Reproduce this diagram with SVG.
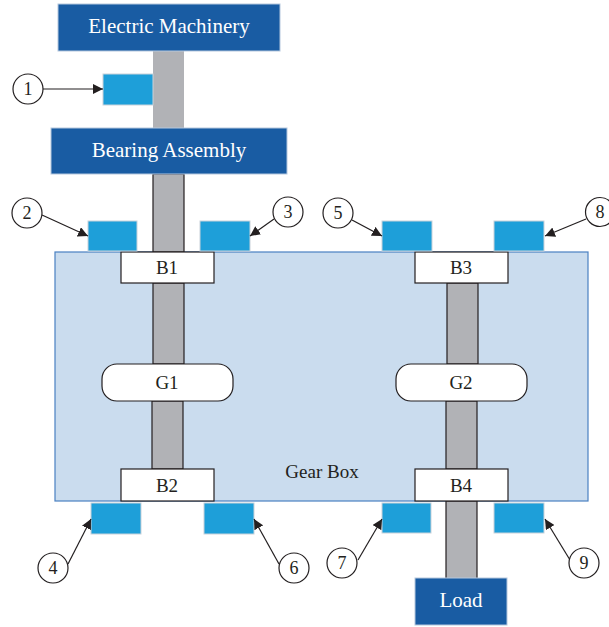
<svg xmlns="http://www.w3.org/2000/svg" width="609" height="627" viewBox="0 0 609 627">
<style>
.dark{fill:#195ca3;stroke:#b5c7dd;stroke-width:1}
.dt{font-family:"Liberation Serif",serif;font-size:21px;fill:#fff;text-anchor:middle}
.shaft{fill:#b1b2b6;stroke:#231f20;stroke-width:1.2}
.sensor{fill:#1e9fd9;stroke:#c9d2da;stroke-width:1}
.part{fill:#fff;stroke:#231f20;stroke-width:1.2}
.pt{font-family:"Liberation Serif",serif;font-size:19px;fill:#231f20;text-anchor:middle}
.num{fill:#fff;stroke:#231f20;stroke-width:1.2}
.nt{font-family:"Liberation Serif",serif;font-size:18px;fill:#231f20;text-anchor:middle}
.ar{stroke:#231f20;stroke-width:1.2;fill:none;marker-end:url(#ah)}
</style>
<defs>
<marker id="ah" viewBox="0 0 10 10" refX="10" refY="5" markerWidth="10" markerHeight="10" markerUnits="userSpaceOnUse" orient="auto">
<path d="M0,0 L10,5 L0,10 z" fill="#231f20"/>
</marker>
</defs>
<g id="gearbox">
<rect x="55" y="252" width="533" height="249" fill="#cadcee" stroke="#4a80c2" stroke-width="1.2"/>
<text x="322" y="478" class="pt">Gear Box</text>
</g>
<g id="shafts">
<rect x="153" y="51" width="31" height="77" fill="#b1b2b6"/>
<rect x="153" y="174" width="31" height="78" class="shaft"/>
<rect x="153" y="283" width="31" height="81" class="shaft"/>
<rect x="152" y="401" width="31" height="68" class="shaft"/>
<rect x="447" y="283" width="31" height="81" class="shaft"/>
<rect x="446" y="401" width="31" height="68" class="shaft"/>
<rect x="446" y="501" width="31" height="78" class="shaft"/>
</g>
<g id="electric-machinery">
<rect x="58" y="4" width="222" height="47" class="dark"/>
<text x="169" y="33" class="dt">Electric Machinery</text>
</g>
<g id="bearing-assembly">
<rect x="51" y="128" width="236" height="46" class="dark"/>
<text x="169" y="157" class="dt">Bearing Assembly</text>
</g>
<g id="load">
<rect x="415" y="578" width="92" height="47" class="dark"/>
<text x="461" y="607" class="dt">Load</text>
</g>
<g id="B1"><rect x="121" y="252" width="93" height="31" class="part"/><text x="167" y="274" class="pt">B1</text></g>
<g id="B2"><rect x="121" y="469" width="93" height="32" class="part"/><text x="167" y="492" class="pt">B2</text></g>
<g id="B3"><rect x="415" y="252" width="93" height="31" class="part"/><text x="461" y="274" class="pt">B3</text></g>
<g id="B4"><rect x="415" y="469" width="93" height="32" class="part"/><text x="461" y="492" class="pt">B4</text></g>
<g id="G1"><rect x="102" y="364" width="131" height="37" rx="15" class="part"/><text x="167" y="389" class="pt">G1</text></g>
<g id="G2"><rect x="396" y="364" width="131" height="37" rx="15" class="part"/><text x="461" y="389" class="pt">G2</text></g>
<g id="sensors">
<rect x="103" y="74" width="50" height="31" class="sensor"/>
<rect x="88" y="221" width="49" height="30" class="sensor"/>
<rect x="200" y="221" width="50" height="30" class="sensor"/>
<rect x="382" y="221" width="50" height="30" class="sensor"/>
<rect x="494" y="221" width="50" height="30" class="sensor"/>
<rect x="91" y="503" width="50" height="31" class="sensor"/>
<rect x="204" y="503" width="50" height="31" class="sensor"/>
<rect x="382" y="503" width="49" height="30" class="sensor"/>
<rect x="494" y="503" width="50" height="30" class="sensor"/>
</g>
<g id="connectors">
<line x1="43" y1="89" x2="103" y2="89" class="ar"/>
<line x1="42" y1="215" x2="88" y2="236" class="ar"/>
<line x1="274" y1="219" x2="250" y2="236" class="ar"/>
<line x1="352" y1="220" x2="382" y2="236" class="ar"/>
<line x1="586" y1="219" x2="545" y2="236" class="ar"/>
<line x1="68" y1="564" x2="91" y2="519" class="ar"/>
<line x1="279" y1="564" x2="254" y2="519" class="ar"/>
<line x1="358" y1="560" x2="382" y2="519" class="ar"/>
<line x1="570" y1="560" x2="545" y2="519" class="ar"/>
</g>
<g id="n1"><circle cx="28" cy="89" r="15" class="num"/><text x="28" y="95" class="nt">1</text></g>
<g id="n2"><circle cx="27" cy="213" r="15" class="num"/><text x="27" y="219" class="nt">2</text></g>
<g id="n3"><circle cx="288" cy="212" r="15" class="num"/><text x="288" y="218" class="nt">3</text></g>
<g id="n4"><circle cx="53" cy="568" r="15" class="num"/><text x="53" y="574" class="nt">4</text></g>
<g id="n5"><circle cx="338" cy="213" r="15" class="num"/><text x="338" y="219" class="nt">5</text></g>
<g id="n6"><circle cx="294" cy="568" r="15" class="num"/><text x="294" y="574" class="nt">6</text></g>
<g id="n7"><circle cx="342" cy="563" r="15" class="num"/><text x="342" y="569" class="nt">7</text></g>
<g id="n8"><circle cx="600" cy="212" r="14.5" class="num"/><text x="600" y="218" class="nt">8</text></g>
<g id="n9"><circle cx="584" cy="563" r="15" class="num"/><text x="584" y="569" class="nt">9</text></g>
</svg>
